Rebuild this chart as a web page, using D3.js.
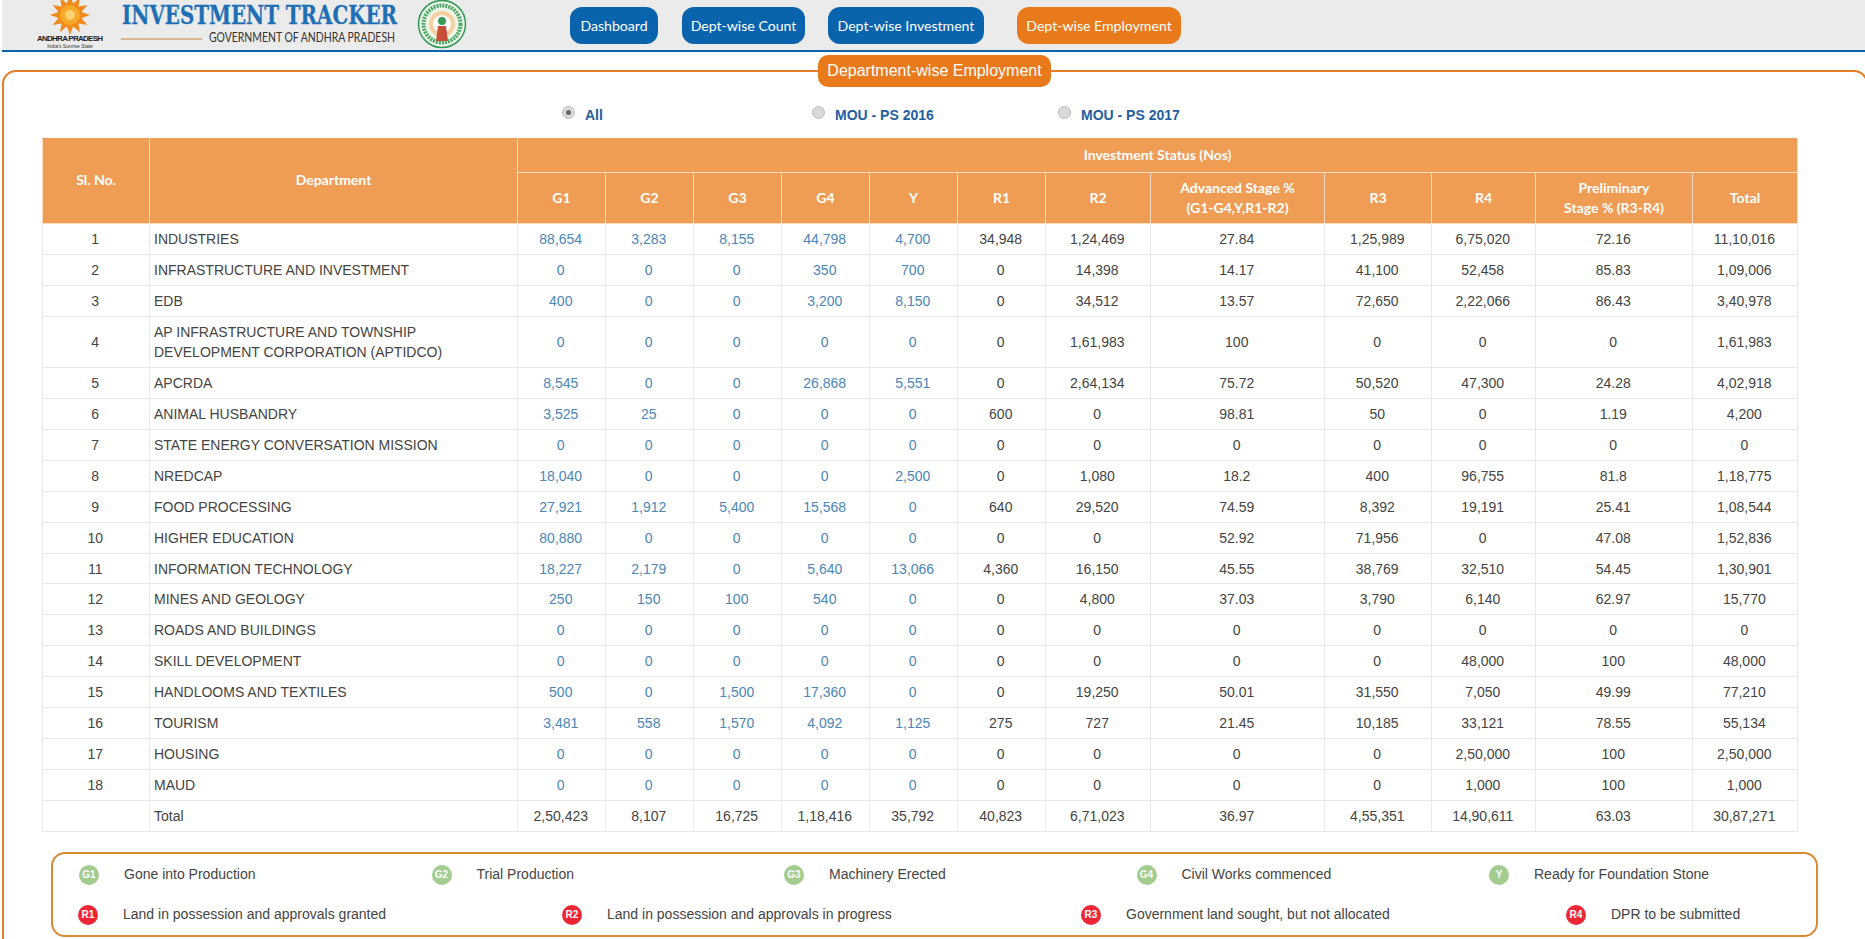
<!DOCTYPE html>
<html>
<head>
<meta charset="utf-8">
<title>Department-wise Employment</title>
<script src="https://cdn.jsdelivr.net/npm/d3@7"></script>
<style>
html, body { margin: 0; padding: 0; background: #fff; }
#page { position: relative; width: 1865px; height: 939px; overflow: hidden; font-family: "Liberation Sans", Arial, sans-serif; color: #444; }
#topbar { position: absolute; left: 0; top: 0; }
.navbtn { position: absolute; top: 7px; height: 37px; line-height: 37px; text-align: center; color: #fff; border-radius: 12px; font-family: Lato, sans-serif; font-size: 14.1px; }
#frame { position: absolute; left: 2px; top: 70px; width: 1866px; height: 900px; border: 2.5px solid #e47f27; border-radius: 14px; box-sizing: border-box; }
#pill { position: absolute; left: 818px; top: 55px; width: 233px; height: 32px; line-height: 31px; background: #e97a1b; color: #fff; text-align: center; border-radius: 10px; font-size: 16px; }
.radio { position: absolute; top: 106px; font-size: 14px; font-weight: bold; color: #1f5fa0; line-height: 18px; white-space: nowrap; }
.radio i { position: absolute; left: -23px; top: 0; width: 11px; height: 11px; border-radius: 50%; background: #d9d9d9; border: 1px solid #bbb; }
.radio i.on::after { content: ""; position: absolute; left: 3px; top: 3px; width: 5px; height: 5px; border-radius: 50%; background: #666; }
table { position: absolute; left: 42px; top: 138px; width: 1755px; table-layout: fixed; border-collapse: collapse; font-size: 14px; }
th { background: #ef9c55; color: #fff; font-family: Lato, sans-serif; font-size: 14px; font-weight: bold; border: 1px solid #f9dcc2; text-align: center; line-height: 20px; padding: 0; }
thead tr:first-child th { border-top-color: #ef9c55; padding-bottom: 2px; }
td { border: 1px solid #e9e9e9; text-align: center; padding: 0 1.5px 0 0; line-height: 20px; }
td.dept { text-align: left; padding-left: 4px; }
td.link { color: #4b86b8; }
#legend { position: absolute; left: 50.5px; top: 852px; width: 1767px; height: 85px; border: 2.5px solid #d98a35; border-radius: 14px; box-sizing: border-box; }
.key { position: absolute; width: 20px; height: 20px; border-radius: 50%; color: #fff; font-size: 10px; font-weight: bold; line-height: 20px; text-align: center; }
.keytext { position: absolute; font-size: 14px; line-height: 18px; white-space: nowrap; }
</style>
</head>
<body>
<div id="page"></div>
<script>
// table values, one list per column, last entry is the Total row
const departments = ["INDUSTRIES", "INFRASTRUCTURE AND INVESTMENT", "EDB",
    "AP INFRASTRUCTURE AND TOWNSHIP DEVELOPMENT CORPORATION (APTIDCO)", "APCRDA",
    "ANIMAL HUSBANDRY", "STATE ENERGY CONVERSATION MISSION", "NREDCAP", "FOOD PROCESSING",
    "HIGHER EDUCATION", "INFORMATION TECHNOLOGY", "MINES AND GEOLOGY", "ROADS AND BUILDINGS",
    "SKILL DEVELOPMENT", "HANDLOOMS AND TEXTILES", "TOURISM", "HOUSING", "MAUD", "Total"];
const g1 = [88654, 0, 400, 0, 8545, 3525, 0, 18040, 27921, 80880, 18227, 250, 0, 0, 500, 3481, 0, 0, 250423];
const g2 = [3283, 0, 0, 0, 0, 25, 0, 0, 1912, 0, 2179, 150, 0, 0, 0, 558, 0, 0, 8107];
const g3 = [8155, 0, 0, 0, 0, 0, 0, 0, 5400, 0, 0, 100, 0, 0, 1500, 1570, 0, 0, 16725];
const g4 = [44798, 350, 3200, 0, 26868, 0, 0, 0, 15568, 0, 5640, 540, 0, 0, 17360, 4092, 0, 0, 118416];
const y = [4700, 700, 8150, 0, 5551, 0, 0, 2500, 0, 0, 13066, 0, 0, 0, 0, 1125, 0, 0, 35792];
const r1 = [34948, 0, 0, 0, 0, 600, 0, 0, 640, 0, 4360, 0, 0, 0, 0, 275, 0, 0, 40823];
const r2 = [124469, 14398, 34512, 161983, 264134, 0, 0, 1080, 29520, 0, 16150, 4800, 0, 0, 19250, 727, 0, 0, 671023];
const advanced = [27.84, 14.17, 13.57, 100, 75.72, 98.81, 0, 18.2, 74.59, 52.92, 45.55, 37.03, 0, 0, 50.01, 21.45, 0, 0, 36.97];
const r3 = [125989, 41100, 72650, 0, 50520, 50, 0, 400, 8392, 71956, 38769, 3790, 0, 0, 31550, 10185, 0, 0, 455351];
const r4 = [675020, 52458, 222066, 0, 47300, 0, 0, 96755, 19191, 0, 32510, 6140, 0, 48000, 7050, 33121, 250000, 1000, 1490611];
const preliminary = [72.16, 85.83, 86.43, 0, 24.28, 1.19, 0, 81.8, 25.41, 47.08, 54.45, 62.97, 0, 100, 49.99, 78.55, 100, 100, 63.03];
const total = [1110016, 109006, 340978, 161983, 402918, 4200, 0, 118775, 108544, 152836, 130901, 15770, 0, 48000, 77210, 55134, 250000, 1000, 3087271];

const statusColumns = ["G1", "G2", "G3", "G4", "Y", "R1", "R2", "Advanced Stage %<br>(G1-G4,Y,R1-R2)", "R3", "R4", "Preliminary<br>Stage % (R3-R4)", "Total"];
const navLabels = ["Dashboard", "Dept-wise Count", "Dept-wise Investment", "Dept-wise Employment"];
const radioLabels = ["All", "MOU - PS 2016", "MOU - PS 2017"];
const greenCodes = ["G1", "G2", "G3", "G4", "Y"];
const greenLabels = ["Gone into Production", "Trial Production", "Machinery Erected", "Civil Works commenced", "Ready for Foundation Stone"];
const redCodes = ["R1", "R2", "R3", "R4"];
const redLabels = ["Land in possession and approvals granted", "Land in possession and approvals in progress", "Government land sought, but not allocated", "DPR to be submitted"];

// layout
const colWidths = [107, 368, 88, 88, 88, 88, 88, 88, 105, 174, 107, 104, 157, 105];
const navBox = [[570, 88], [682, 123], [828, 156], [1017, 164]];
const radioX = [585, 835, 1081];
const redX = [88, 572, 1091, 1576];

// indian digit grouping, 11,10,016
const fmt = d3.formatLocale({decimal: ".", thousands: ",", grouping: [3, 2], currency: ["", ""]}).format(",d");

const page = d3.select("#page");

// ---- top bar ----
const bar = page.append("svg").attr("id", "topbar").attr("width", 1865).attr("height", 52);
bar.append("rect").attr("x", 2).attr("width", 1863).attr("height", 50).attr("fill", "#ebebeb");
bar.append("rect").attr("x", 2).attr("y", 50).attr("width", 1863).attr("height", 2).attr("fill", "#0a63ad");

// sun logo
const sun = bar.append("g").attr("transform", "translate(70,15)");
sun.selectAll("path").data(d3.range(12)).join("path")
    .attr("d", "M-4,-9 L0,-20 L4,-9 Z")
    .attr("fill", "#f08a1d")
    .attr("transform", d => `rotate(${d * 30})`);
sun.append("circle").attr("r", 10).attr("fill", "#f7a928");
sun.append("circle").attr("r", 5).attr("fill", "#fbd271");
bar.append("text").attr("x", 70).attr("y", 41).attr("text-anchor", "middle")
    .attr("font-size", 8).attr("font-weight", "bold").attr("fill", "#222")
    .attr("textLength", 66).text("ANDHRA PRADESH");
bar.append("text").attr("x", 70).attr("y", 47.5).attr("text-anchor", "middle")
    .attr("font-size", 5).attr("fill", "#333").text("India's Sunrise State");

// title
bar.append("text").attr("x", 122).attr("y", 24).attr("font-family", "'DejaVu Serif', serif")
    .attr("font-weight", "bold").attr("font-size", 26).attr("fill", "#1f6fb5")
    .attr("stroke", "#1f6fb5").attr("stroke-width", 0.3)
    .attr("textLength", 275).attr("lengthAdjust", "spacingAndGlyphs").text("INVESTMENT TRACKER");
bar.append("line").attr("x1", 121).attr("x2", 202).attr("y1", 39).attr("y2", 39)
    .attr("stroke", "#c8823a").attr("stroke-width", 1.2);
bar.append("text").attr("x", 209).attr("y", 42).attr("font-family", "Lato, sans-serif")
    .attr("font-size", 13).attr("fill", "#333")
    .attr("textLength", 186).attr("lengthAdjust", "spacingAndGlyphs").text("GOVERNMENT OF ANDHRA PRADESH");

// state emblem
const emblem = bar.append("g").attr("transform", "translate(442,24)");
emblem.append("circle").attr("r", 23.5).attr("fill", "#eef4e6").attr("stroke", "#2f9a57").attr("stroke-width", 1.5);
emblem.append("circle").attr("r", 18.5).attr("fill", "none").attr("stroke", "#4aa86c").attr("stroke-width", 4).attr("stroke-dasharray", "2 1");
emblem.append("circle").attr("r", 13).attr("fill", "#f6cf9f");
emblem.append("circle").attr("r", 9).attr("fill", "#fff");
emblem.append("circle").attr("cy", -3).attr("r", 4).attr("fill", "#3c9a5a");
emblem.append("path").attr("d", "M-4,2 L4,2 L6,17 L-6,17 Z").attr("fill", "#c8503a");

// nav buttons
page.selectAll(".navbtn").data(navLabels).join("div")
    .attr("class", "navbtn")
    .style("left", (d, i) => navBox[i][0] + "px")
    .style("width", (d, i) => navBox[i][1] + "px")
    .style("background", (d, i) => i === 3 ? "#e97a1b" : "#0a63ad")
    .text(d => d);

// ---- frame and title pill ----
page.append("div").attr("id", "frame");
page.append("div").attr("id", "pill").text("Department-wise Employment");

// radios
const radios = page.selectAll(".radio").data(radioLabels).join("div")
    .attr("class", "radio")
    .style("left", (d, i) => radioX[i] + "px")
    .text(d => d);
radios.append("i").attr("class", (d, i) => i === 0 ? "on" : null);

// ---- table ----
const table = page.append("table");
table.append("colgroup").selectAll("col").data(colWidths).join("col").style("width", d => d + "px");

const thead = table.append("thead");
const head1 = thead.append("tr").style("height", "34px");
head1.append("th").attr("rowspan", 2).text("Sl. No.");
head1.append("th").attr("rowspan", 2).text("Department");
head1.append("th").attr("colspan", statusColumns.length).text("Investment Status (Nos)");
thead.append("tr").style("height", "51px")
    .selectAll("th").data(statusColumns).join("th").html(d => d);

const rows = departments.map((name, i) => ({
    no: i < 18 ? i + 1 : "",
    name,
    isTotal: i === 18,
    cells: [g1[i], g2[i], g3[i], g4[i], y[i], r1[i], r2[i], advanced[i], r3[i], r4[i], preliminary[i], total[i]]
}));

const tr = table.append("tbody").selectAll("tr").data(rows).join("tr")
    .style("height", (d, i) => i === 3 ? "51px" : i === 10 ? "30px" : "31px");
tr.append("td").text(d => d.no);
tr.append("td").attr("class", "dept").html(d => d.name.replace("TOWNSHIP ", "TOWNSHIP<br>"));
tr.selectAll("td.val").data(d => d.cells.map((v, j) => ({v, j, isTotal: d.isTotal}))).join("td")
    .attr("class", d => d.j < 5 && !d.isTotal ? "val link" : "val")
    .text(d => (d.j === 7 || d.j === 10) ? String(d.v) : fmt(d.v));

// ---- legend ----
page.append("div").attr("id", "legend");
const greenX = d3.scalePoint().domain(greenCodes).range([89, 1499]);

function drawKeys(codes, labels, xOf, cy, color) {
    page.selectAll(null).data(codes).join("div")
        .attr("class", "key")
        .style("left", d => xOf(d) - 10 + "px")
        .style("top", cy - 10 + "px")
        .style("background", color)
        .text(d => d);
    page.selectAll(null).data(labels).join("div")
        .attr("class", "keytext")
        .style("left", (d, i) => xOf(codes[i]) + 35 + "px")
        .style("top", cy - 10 + "px")
        .text(d => d);
}
drawKeys(greenCodes, greenLabels, greenX, 875, "#a3cc8e");
drawKeys(redCodes, redLabels, d => redX[redCodes.indexOf(d)], 915, "#ee2737");
</script>
</body>
</html>
